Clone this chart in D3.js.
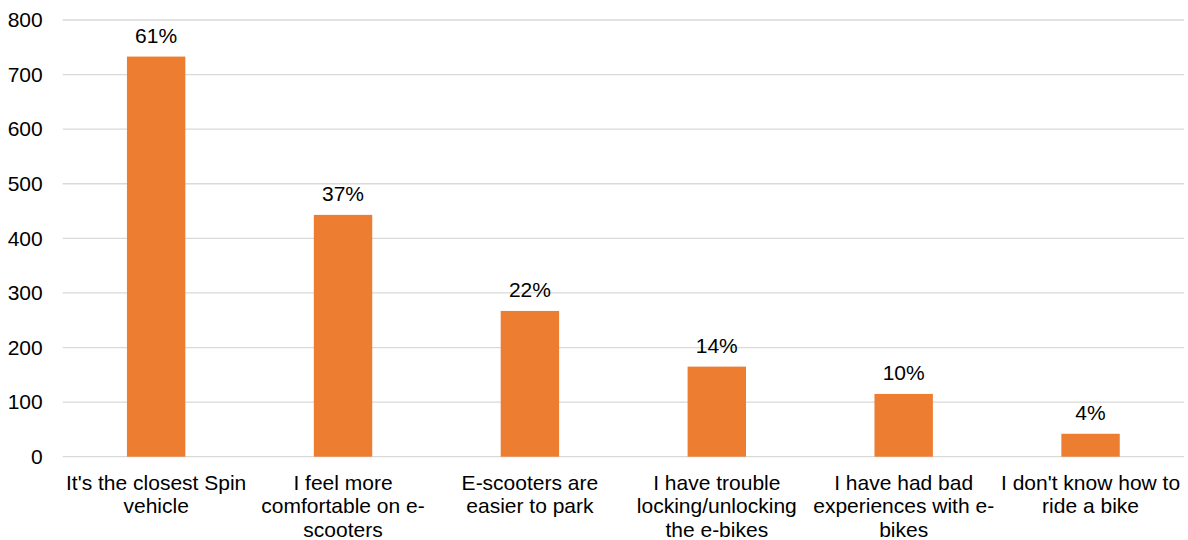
<!DOCTYPE html>
<html>
<head>
<meta charset="utf-8">
<script src="https://cdn.jsdelivr.net/npm/d3@7"></script>
<style>
  html, body { margin: 0; padding: 0; background: #fff; }
  svg { display: block; font-family: "Liberation Sans", Arial, sans-serif; }
</style>
</head>
<body>
<svg id="chart" width="1188" height="540"></svg>
<script>
const categories = [
  "It's the closest Spin vehicle",
  "I feel more comfortable on e-scooters",
  "E-scooters are easier to park",
  "I have trouble locking/unlocking the e-bikes",
  "I have had bad experiences with e-bikes",
  "I don't know how to ride a bike"
];
const categoryLines = [
  ["It's the closest Spin", "vehicle"],
  ["I feel more", "comfortable on e-", "scooters"],
  ["E-scooters are", "easier to park"],
  ["I have trouble", "locking/unlocking", "the e-bikes"],
  ["I have had bad", "experiences with e-", "bikes"],
  ["I don't know how to", "ride a bike"]
];
const values = [733, 443, 267, 165, 115, 42];
const percentLabels = ["61%", "37%", "22%", "14%", "10%", "4%"];
const yTicks = [0, 100, 200, 300, 400, 500, 600, 700, 800];

const W = 1188, H = 540;
const margin = { top: 20, right: 4, bottom: 83.3, left: 62.7 };
const iw = W - margin.left - margin.right;
const ih = H - margin.top - margin.bottom;
const FS = 21;

const svg = d3.select("#chart");
const g = svg.append("g").attr("transform", `translate(${margin.left},${margin.top})`);

const x = d3.scaleBand().domain(categories).range([0, iw]).padding(0);
const y = d3.scaleLinear().domain([0, 800]).range([ih, 0]);
const barW = x.bandwidth() * 0.3125;

// gridlines
g.append("g").selectAll("line").data(yTicks).join("line")
  .attr("x1", 0).attr("x2", iw)
  .attr("y1", d => y(d)).attr("y2", d => y(d))
  .attr("stroke", "#d9d9d9").attr("stroke-width", 1.3);

// y axis labels
const yAxis = d3.axisLeft(y).tickValues(yTicks).tickSize(0).tickPadding(20).tickFormat(d3.format("d"));
g.append("g").call(yAxis)
  .call(s => s.select(".domain").remove())
  .call(s => s.selectAll("text")
    .attr("font-size", FS).attr("fill", "#000")
    .attr("font-family", "Liberation Sans, Arial, sans-serif"));

// bars
g.append("g").selectAll("rect").data(values).join("rect")
  .attr("x", (d, i) => x(categories[i]) + (x.bandwidth() - barW) / 2)
  .attr("width", barW)
  .attr("y", d => y(d))
  .attr("height", d => ih - y(d))
  .attr("fill", "#ED7D31");

// value labels
g.append("g").selectAll("text").data(values).join("text")
  .attr("x", (d, i) => x(categories[i]) + x.bandwidth() / 2)
  .attr("y", d => y(d) - 13.5)
  .attr("text-anchor", "middle")
  .attr("font-size", FS).attr("fill", "#000")
  .text((d, i) => percentLabels[i]);

// x labels
const xl = g.append("g").attr("transform", `translate(0,${ih})`);
categories.forEach((c, i) => {
  const t = xl.append("text")
    .attr("x", x(c) + x.bandwidth() / 2)
    .attr("y", 33.3)
    .attr("text-anchor", "middle")
    .attr("font-size", FS).attr("fill", "#000");
  categoryLines[i].forEach((line, j) => {
    t.append("tspan")
      .attr("x", x(c) + x.bandwidth() / 2)
      .attr("y", 33.3 + j * 23.5)
      .text(line);
  });
});
</script>
</body>
</html>
